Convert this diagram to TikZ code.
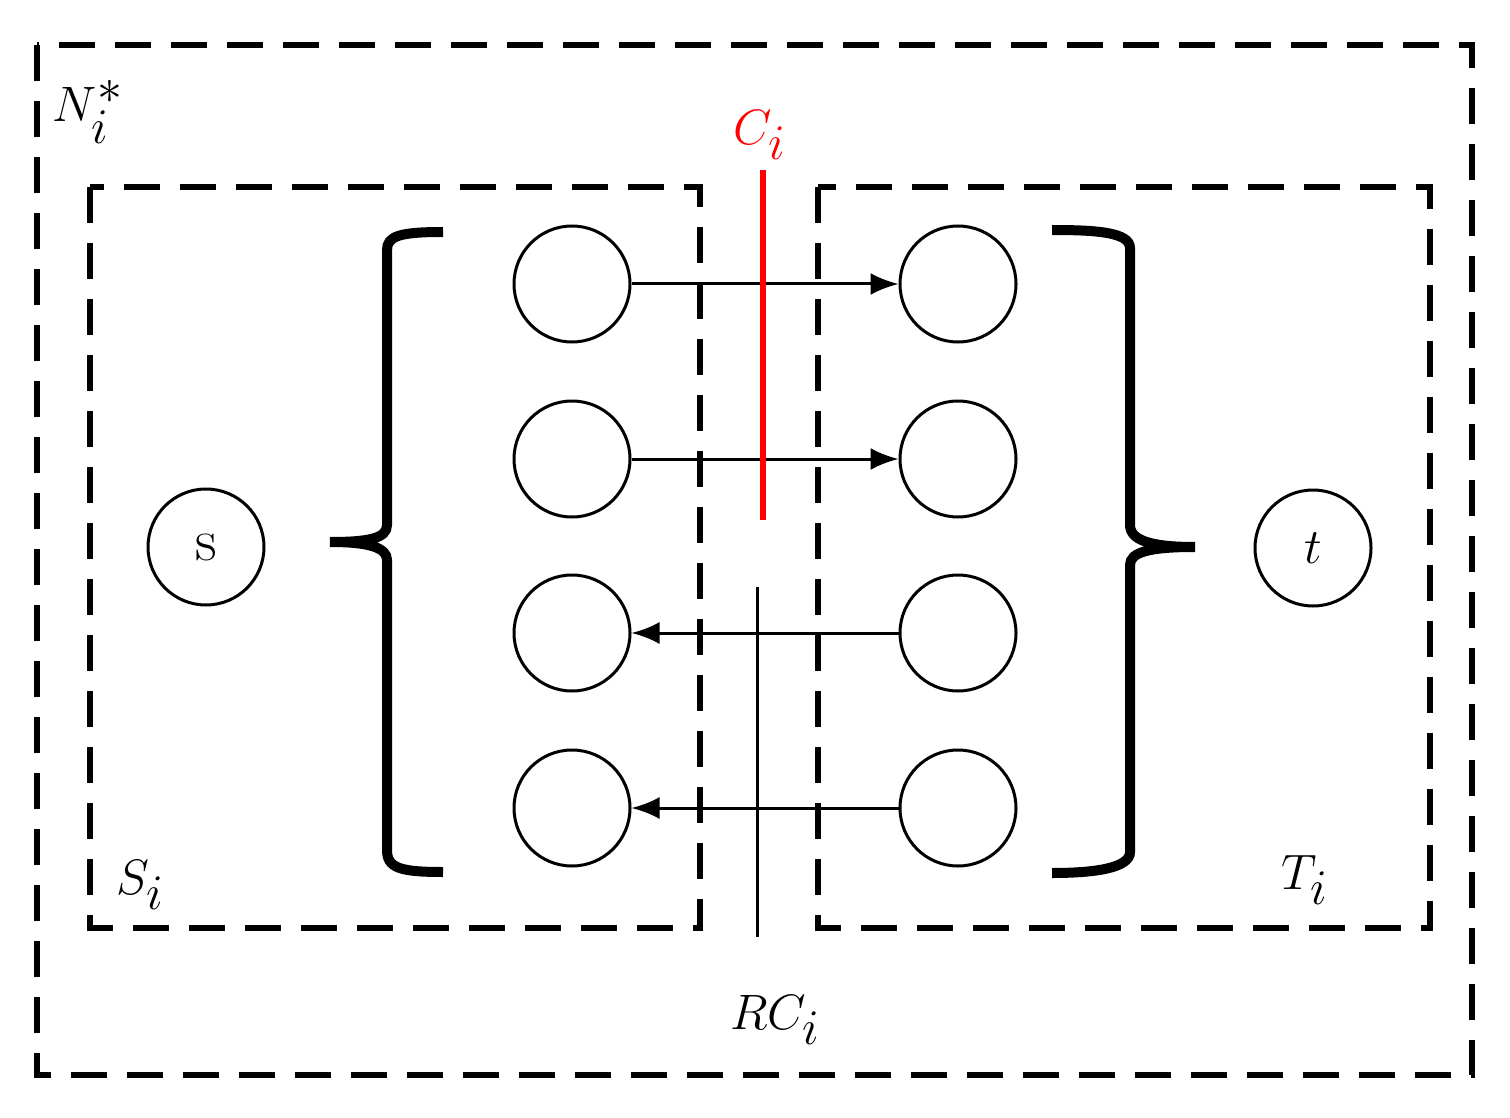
\documentclass[tikz,border=0pt]{standalone}
\usepackage{amsmath}
\usetikzlibrary{arrows.meta}
\begin{document}
\begin{tikzpicture}[x=0.5pt,y=-0.5pt,
 box/.style={line width=2.6pt,dash pattern=on 18pt off 10pt},
 nd/.style={circle,draw,line width=1.5pt,minimum size=58pt,inner sep=0pt},
 arr/.style={line width=1.5pt,-{Latex[length=14pt,width=11pt]}},
 br/.style={line width=5pt},
 lab/.style={font=\fontsize{34}{40}\selectfont}]
\useasboundingbox (0,0) rectangle (1510,1118);
\draw[box] (37,45) rectangle (1472,1075);
\draw[box] (90,187) rectangle (700,928);
\draw[box] (818,187) rectangle (1430,928);
\foreach \i/\y in {1/284,2/459,3/633,4/808}{
 \node[nd] (l\i) at (572,\y) {};
 \node[nd] (r\i) at (958,\y) {};
}
\node[nd,font=\fontsize{30}{36}\selectfont] (s) at (206,547) {s};
\node[nd,font=\fontsize{30}{36}\selectfont] (t) at (1313,548) {$t$};
\draw[arr] (l1) -- (r1);
\draw[arr] (l2) -- (r2);
\draw[arr] (r3) -- (l3);
\draw[arr] (r4) -- (l4);
\coordinate (c1) at (763,170); \coordinate (c2) at (763,520);
\draw[red,line width=2.6pt] (c1) -- (c2);
\coordinate (k1) at (757,587); \coordinate (k2) at (757,937);
\draw[line width=1.5pt] (k1) -- (k2);
\draw[br] (443,232) .. controls (400,232) and (387,236) .. (387,250) -- (387,525)
 .. controls (387,538) and (370,542) .. (330,542)
 .. controls (370,542) and (387,548) .. (387,560) -- (387,850)
 .. controls (387,868) and (400,872) .. (443,872);
\draw[br] (1052,230) .. controls (1095,230) and (1130,232) .. (1130,248) -- (1130,525)
 .. controls (1130,540) and (1150,547) .. (1195,547)
 .. controls (1150,547) and (1130,552) .. (1130,565) -- (1130,852)
 .. controls (1130,868) and (1095,873) .. (1052,873);
\node[lab] (N) at (88,112) {$N_i^*$};
\node[lab,red] (C) at (760,135) {$C_i$};
\node[lab] (S) at (140,885) {$S_i$};
\node[lab] (T) at (1305,880) {$T_i$};
\node[lab] (R) at (775,1020) {$RC_i$};
\end{tikzpicture}
\end{document}
